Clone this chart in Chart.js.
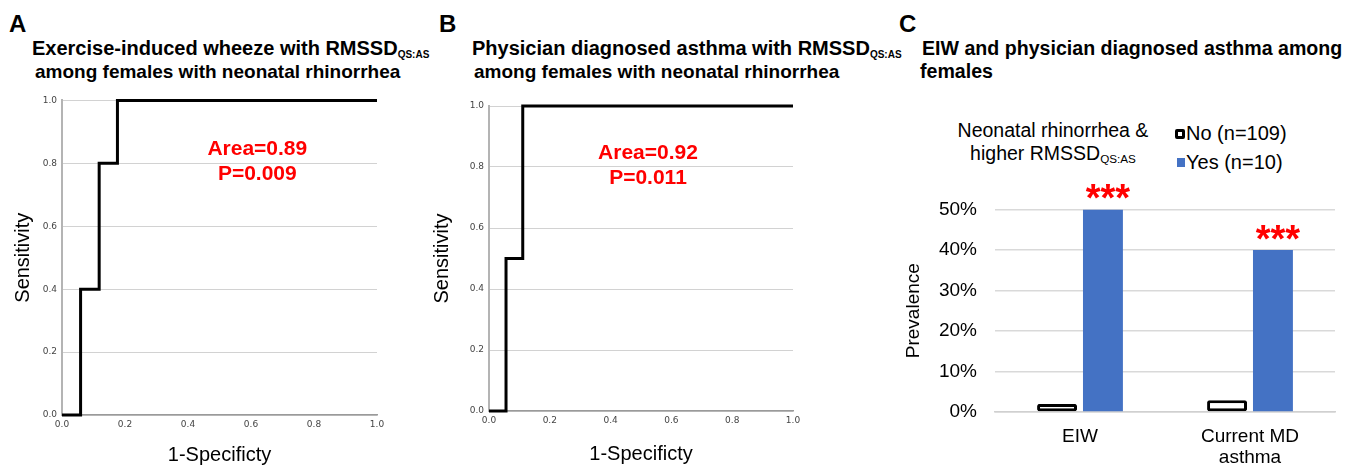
<!DOCTYPE html>
<html>
<head>
<meta charset="utf-8">
<script src="https://cdn.jsdelivr.net/npm/chart.js@4.4.1/dist/chart.umd.min.js"></script>
<style>
  html, body { margin: 0; padding: 0; background: #fff; }
  body { width: 1363px; height: 467px; position: relative; overflow: hidden;
         font-family: "Liberation Sans", Arial, sans-serif; color: #000; }
  .box { position: absolute; }
  .letter { position: absolute; font-weight: bold; font-size: 24px; line-height: 24px; }
  .title { position: absolute; font-weight: bold; font-size: 19px; line-height: 23px; white-space: nowrap; }
  .title .l1 { font-size: 20px; }
  .title sub { font-size: 0.5em; vertical-align: -0.3em; line-height: 0; }
  .leg sub { font-size: 0.6em; vertical-align: -0.25em; line-height: 0; }
  .leg { position: absolute; font-size: 20px; line-height: 23px; white-space: nowrap; }
</style>
</head>
<body>
<div class="letter" style="left:9px; top:12px;">A</div>
<div class="title" style="left:32px; top:37px;"><span class="l1">Exercise-induced wheeze with RMSSD<sub>QS:AS</sub></span><br><span style="padding-left:3px">among females with neonatal rhinorrhea</span></div>

<div class="letter" style="left:439px; top:12px;">B</div>
<div class="title" style="left:472px; top:37px;"><span class="l1">Physician diagnosed asthma with RMSSD<sub>QS:AS</sub></span><br><span style="padding-left:2px">among females with neonatal rhinorrhea</span></div>

<div class="letter" style="left:899px; top:12px;">C</div>
<div class="title" style="left:922px; top:37px; font-size:19.6px;">EIW and physician diagnosed asthma among<br><span style="margin-left:-2px">females</span></div>

<div class="leg" style="left:953px; top:119px; width:200px; text-align:center; font-size:19.5px;">Neonatal rhinorrhea &amp;<br>higher RMSSD<sub>QS:AS</sub></div>
<div class="box" style="left:1175px; top:129px; width:10px; height:10px; box-sizing:border-box; border:3px solid #000; border-radius:2px; background:#fff;"></div>
<div class="leg" style="left:1186px; top:122px;">No (n=109)</div>
<div class="box" style="left:1177px; top:158px; width:8px; height:9px; background:#4472C4;"></div>
<div class="leg" style="left:1186px; top:151px;">Yes (n=10)</div>

<div class="box" style="left:0px; top:90px; width:390px; height:377px;"><canvas id="cA"></canvas></div>
<div class="box" style="left:420px; top:90px; width:385px; height:377px;"><canvas id="cB"></canvas></div>
<div class="box" style="left:880px; top:180px; width:483px; height:287px;"><canvas id="cC"></canvas></div>

<script>
// ---- Data ----
// Panel A ROC (1-Specificity, Sensitivity) corner points
const rocA_fpr = [0.0, 0.059, 0.059, 0.118, 0.118, 0.176, 0.176, 1.0];
const rocA_tpr = [0.0, 0.0,   0.4,   0.4,   0.8,   0.8,   1.0,   1.0];
const rocA_text = ["Area=0.89", "P=0.009"];
// Panel B ROC
const rocB_fpr = [0.0, 0.056, 0.056, 0.111, 0.111, 1.0];
const rocB_tpr = [0.0, 0.0,   0.5,   0.5,   1.0,   1.0];
const rocB_text = ["Area=0.92", "P=0.011"];
const rocTicks = [0, 0.2, 0.4, 0.6, 0.8, 1.0];

// Panel C prevalence
const categoriesC = ["EIW", ["Current MD", "asthma"]];
const noLabel = "No (n=109)";
const yesLabel = "Yes (n=10)";
const noValues = [0.02, 0.029];
const yesValues = [0.50, 0.40];
const sigMarks = ["***", "***"];

const FONT = "'Liberation Sans', Arial, sans-serif";

function rocChart(id, fpr, tpr, txt, cfg) {
  const pts = fpr.map((x, i) => ({ x: x, y: tpr[i] }));
  const annot = {
    id: 'annot',
    afterDatasetsDraw(chart) {
      const ctx = chart.ctx;
      const xs = chart.scales.x, ys = chart.scales.y;
      ctx.save();
      ctx.fillStyle = '#FF0000';
      ctx.font = "bold 21px " + FONT;
      ctx.textAlign = 'center';
      ctx.textBaseline = 'middle';
      ctx.fillText(txt[0], xs.getPixelForValue(cfg.ax), ys.getPixelForValue(cfg.ay1));
      ctx.fillText(txt[1], xs.getPixelForValue(cfg.ax), ys.getPixelForValue(cfg.ay2));
      ctx.restore();
    }
  };
  return new Chart(document.getElementById(id), {
    type: 'line',
    data: { datasets: [{ data: pts, borderColor: '#000', borderWidth: 3, pointRadius: 0,
                         tension: 0, fill: false, clip: false, borderJoinStyle: 'miter' }] },
    options: {
      responsive: true, maintainAspectRatio: false, animation: false,
      layout: { padding: { top: cfg.pt, right: cfg.pr, left: 0, bottom: 0 } },
      plugins: { legend: { display: false }, tooltip: { enabled: false } },
      scales: {
        x: {
          type: 'linear', min: 0, max: 1,
          afterBuildTicks: (s) => { s.ticks = rocTicks.map(v => ({ value: v })); },
          afterFit: (s) => { s.height = cfg.xh; },
          grid: { display: false, drawTicks: false },
          border: { display: true, color: '#9a9a9a', width: 1.5 },
          ticks: { padding: 4, color: '#444', font: { family: "'DejaVu Sans'", size: 9 },
                   callback: (v) => Number(v).toFixed(1), maxRotation: 0 },
          title: { display: true, text: '1-Specificty', color: '#000',
                   font: { family: FONT, size: 20 }, padding: { top: 0, bottom: cfg.xtp } }
        },
        y: {
          type: 'linear', min: 0, max: 1,
          afterBuildTicks: (s) => { s.ticks = rocTicks.map(v => ({ value: v })); },
          afterFit: (s) => { s.width = cfg.yw; },
          grid: { color: '#d2d2d2', lineWidth: 1, drawTicks: false },
          border: { display: true, color: '#b4b4b4', width: 2 },
          ticks: { padding: 5, color: '#444', font: { family: "'DejaVu Sans'", size: 9 },
                   callback: (v) => Number(v).toFixed(1) },
          title: { display: true, text: 'Sensitivity', color: '#000',
                   font: { family: FONT, size: 20 }, padding: { top: cfg.ytp, bottom: 0 } }
        }
      }
    },
    plugins: [annot]
  });
}

rocChart('cA', rocA_fpr, rocA_tpr, rocA_text,
  { pt: 9, pr: 13, xh: 52, yw: 62, xtp: 0, ytp: 11, ax: 0.62, ay1: 0.845, ay2: 0.766 });
rocChart('cB', rocB_fpr, rocB_tpr, rocB_text,
  { pt: 16, pr: 12, xh: 56, yw: 69, xtp: 1, ytp: 10, ax: 0.523, ay1: 0.846, ay2: 0.764 });

const stars = {
  id: 'stars',
  afterDatasetsDraw(chart) {
    const meta = chart.getDatasetMeta(1);
    const ctx = chart.ctx;
    ctx.save();
    ctx.fillStyle = '#FF0000';
    ctx.font = "bold 38px " + FONT;
    ctx.textAlign = 'center';
    ctx.textBaseline = 'alphabetic';
    meta.data.forEach((bar, i) => {
      ctx.fillText(sigMarks[i], bar.x + 5, bar.y + 2);
    });
    ctx.restore();
  }
};

new Chart(document.getElementById('cC'), {
  type: 'bar',
  data: {
    labels: categoriesC,
    datasets: [
      { label: noLabel, data: noValues, backgroundColor: '#fff', borderColor: '#000',
        borderWidth: 3, borderSkipped: false, borderRadius: 2,
        categoryPercentage: 0.54, barPercentage: 0.87 },
      { label: yesLabel, data: yesValues, backgroundColor: '#4472C4', borderWidth: 0,
        categoryPercentage: 0.54, barPercentage: 0.87 }
    ]
  },
  options: {
    responsive: true, maintainAspectRatio: false, animation: false,
    layout: { padding: { top: 28, right: 28, left: 0, bottom: 0 } },
    plugins: { legend: { display: false }, tooltip: { enabled: false } },
    scales: {
      x: {
        afterFit: (s) => { s.height = 55; },
        grid: { display: false, drawTicks: false },
        border: { display: true, color: '#d0d0d0', width: 1.5 },
        ticks: { padding: 14, color: '#000', font: { family: FONT, size: 19, lineHeight: 1.1 }, maxRotation: 0 }
      },
      y: {
        min: 0, max: 0.5,
        afterFit: (s) => { s.width = 115; },
        grid: { color: '#d9d9d9', lineWidth: 1.5, drawTicks: false },
        border: { display: false },
        ticks: { stepSize: 0.1, padding: 18, color: '#000', font: { family: FONT, size: 19 },
                 callback: (v) => Math.round(v * 100) + '%' },
        title: { display: true, text: 'Prevalence', color: '#000',
                 font: { family: FONT, size: 19 }, padding: { top: 22, bottom: 0 } }
      }
    }
  },
  plugins: [stars]
});
</script>
</body>
</html>
